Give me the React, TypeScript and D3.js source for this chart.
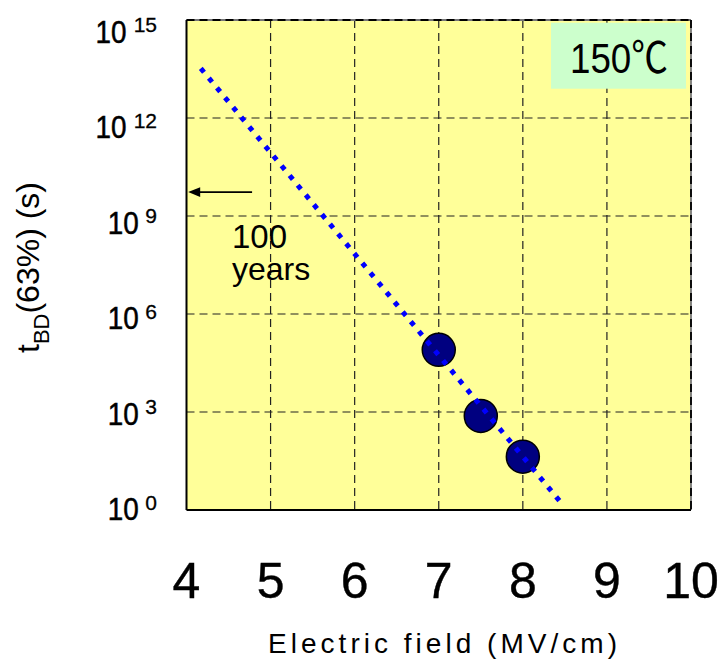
import React from "react";
import * as d3 from "d3";

// ---- data ----
const xTicks = [4, 5, 6, 7, 8, 9, 10];
const yExponents = [0, 3, 6, 9, 12, 15];
const fieldE = [7.0, 7.5, 8.0];
const tBD = [8.0e4, 7.6e2, 4.3e1];
const fitE = [4.17, 8.47];
const fitT = [3.3e13, 1.5];
const arrowE = [4.02, 4.78];
const arrowT = 5.4e9;
const annotLines = ["100", "years"];
const tempLabel = "150℃";
const xLabel = "Electric field (MV/cm)";

const W = 718;
const H = 660;
const L = 186.5, R = 691, T = 20, B = 510;
const FONT = "'Liberation Sans', Arial, 'Noto Sans CJK JP', sans-serif";

export default function App() {
  const x = d3.scaleLinear().domain([4, 10]).range([L, R]);
  const y = d3.scaleLog().domain([1, 1e15]).range([B, T]);
  // baseline of the y tick labels (labels are spaced slightly tighter than the ticks)
  const yLab = d3.scaleLinear().domain([0, 15]).range([520, 42.5]);

  const fitLine = d3.line<number>()
    .x((_, i) => x(fitE[i]))
    .y((_, i) => y(fitT[i]));

  const ay = y(arrowT);
  const ax0 = x(arrowE[0]);
  const ax1 = x(arrowE[1]);

  return (
    <svg width={W} height={H} style={{ position: "absolute", left: 0, top: 0, background: "#fff" }} fontFamily={FONT}>
      <rect x={L} y={T} width={R - L} height={B - T} fill="#ffff99" />
      {/* grid */}
      {xTicks.slice(1, -1).map((v) => (
        <line key={"gx" + v} x1={x(v)} x2={x(v)} y1={T} y2={B} stroke="#222" strokeWidth={1.2} strokeDasharray="8,5" />
      ))}
      {yExponents.slice(1, -1).map((e) => (
        <line key={"gy" + e} x1={L} x2={R} y1={y(Math.pow(10, e))} y2={y(Math.pow(10, e))} stroke="#222" strokeWidth={1.2} strokeDasharray="8,5" />
      ))}
      {/* temperature box */}
      <rect x={551} y={T + 2.7} width={135} height={66} fill="#ccffcc" />
      <text x={570} y={73} fontSize={43} textLength={98} lengthAdjust="spacingAndGlyphs" fill="#000">{tempLabel}</text>
      {/* borders */}
      <line x1={L} x2={R} y1={T} y2={T} stroke="#777" strokeWidth={1.8} />
      <line x1={L} x2={R} y1={T} y2={T} stroke="#000" strokeWidth={1.8} strokeDasharray="8,5" />
      <line x1={R} x2={R} y1={T} y2={B} stroke="#777" strokeWidth={1.8} />
      <line x1={R} x2={R} y1={T} y2={B} stroke="#000" strokeWidth={1.8} strokeDasharray="8,5" />
      <line x1={L} x2={L} y1={T} y2={B} stroke="#000" strokeWidth={2} />
      <line x1={L} x2={R} y1={B} y2={B} stroke="#000" strokeWidth={2} />
      {/* arrow */}
      <line x1={ax1} x2={ax0 + 10} y1={ay} y2={ay} stroke="#000" strokeWidth={1.8} />
      <polygon points={`${ax0},${ay} ${ax0 + 12},${ay - 4.8} ${ax0 + 12},${ay + 4.8}`} fill="#000" />
      {annotLines.map((s, i) => (
        <text key={s} x={232} y={248 + i * 32} fontSize={i === 0 ? 33 : 32} fill="#000">{s}</text>
      ))}
      {/* data points */}
      {fieldE.map((e, i) => (
        <circle key={"p" + i} cx={x(e)} cy={y(tBD[i])} r={16.5} fill="#000080" stroke="#000" strokeWidth={1.5} />
      ))}
      {/* fit line */}
      <path d={fitLine([0, 1]) || ""} fill="none" stroke="#0000ff" strokeWidth={5} strokeDasharray="5,7.65" />
      {/* x tick labels */}
      {xTicks.map((v) => (
        <text key={"xt" + v} x={x(v)} y={598} fontSize={50} textAnchor="middle" fill="#000" stroke="#000" strokeWidth={0.4}>{v}</text>
      ))}
      {/* y tick labels */}
      {yExponents.map((e) => {
        const base = yLab(e);
        const expStr = String(e);
        const expW = 12.3 * expStr.length;
        return (
          <g key={"yt" + e}>
            <text x={157 - expW - 6} y={base} fontSize={32} textAnchor="end" textLength={31} lengthAdjust="spacingAndGlyphs" fill="#000" stroke="#000" strokeWidth={0.5}>10</text>
            <text x={157} y={base - 10.5} fontSize={21} textAnchor="end" fill="#000" stroke="#000" strokeWidth={0.3}>{expStr}</text>
          </g>
        );
      })}
      {/* y axis label */}
      <text transform="translate(39,267.5) rotate(-90)" fontSize={32} textAnchor="middle" fill="#000">
        <tspan>t</tspan>
        <tspan fontSize={22} dy={10}>BD</tspan>
        <tspan dy={-10}>(63%) (s)</tspan>
      </text>
      {/* x axis label */}
      <text x={268} y={653} fontSize={28} textLength={349} lengthAdjust="spacing" fill="#000">{xLabel}</text>
    </svg>
  );
}
